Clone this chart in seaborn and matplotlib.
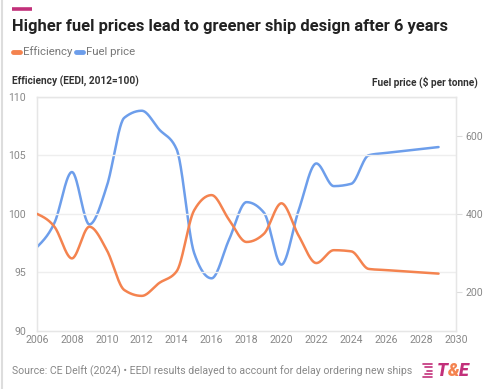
import numpy as np
import pandas as pd
import matplotlib
matplotlib.use("Agg")
import matplotlib.pyplot as plt
from matplotlib.lines import Line2D
import seaborn as sns

years = [2006, 2007, 2008, 2009, 2010, 2011, 2012, 2013, 2014, 2015, 2016, 2017,
         2018, 2019, 2020, 2021, 2022, 2023, 2024, 2025, 2026, 2027, 2028, 2029]
efficiency = [100.0, 98.9, 96.2, 98.9, 96.9, 93.5, 93.0, 94.1, 95.1, 100.3, 101.6, 99.5,
              97.6, 98.3, 100.9, 98.1, 95.8, 96.9, 96.8, 95.3, 95.2, 95.1, 95.0, 94.9]
fuel_price = [315, 377, 507, 373, 471, 646, 664, 616, 565, 300, 235, 334,
              430, 403, 270, 411, 529, 471, 477, 550, 556, 561, 566, 571]

x_ticks = list(range(2006, 2031, 2))
left_ticks = [90, 95, 100, 105, 110]
right_ticks = [200, 400, 600]

ORANGE = "#f4834f"
BLUE = "#6d9eeb"
PINK = "#c2307a"


def monotone(x, y, n=30):
    x = np.asarray(x, float)
    y = np.asarray(y, float)
    h = np.diff(x)
    s = np.diff(y) / h
    m = np.zeros_like(y)
    for k in range(1, len(y) - 1):
        s0, s1, h0, h1 = s[k - 1], s[k], h[k - 1], h[k]
        p = (s0 * h1 + s1 * h0) / (h0 + h1)
        m[k] = (np.sign(s0) + np.sign(s1)) * min(abs(s0), abs(s1), 0.5 * abs(p))
    m[0] = (3 * s[0] - m[1]) / 2
    m[-1] = (3 * s[-1] - m[-2]) / 2
    xs, ys = [], []
    for k in range(len(x) - 1):
        t = np.linspace(0, 1, n, endpoint=False)
        h00 = 2 * t**3 - 3 * t**2 + 1
        h10 = t**3 - 2 * t**2 + t
        h01 = -2 * t**3 + 3 * t**2
        h11 = t**3 - t**2
        xs.append(x[k] + t * h[k])
        ys.append(h00 * y[k] + h10 * h[k] * m[k] + h01 * y[k + 1] + h11 * h[k] * m[k + 1])
    xs.append([x[-1]])
    ys.append([y[-1]])
    return np.concatenate(xs), np.concatenate(ys)


sns.set_theme(style="white")
plt.rcParams["font.family"] = ["Roboto", "DejaVu Sans"]

fig = plt.figure(figsize=(5.0, 3.89), dpi=100)
ax = fig.add_axes([0.074, 0.149, 0.838, 0.6025])
ax2 = ax.twinx()

ex, ey = monotone(years, efficiency)
px, py = monotone(years, fuel_price)
sns.lineplot(x=ex, y=ey, ax=ax, color=ORANGE, linewidth=1.8, sort=False, zorder=3)
sns.lineplot(x=px, y=py, ax=ax2, color=BLUE, linewidth=1.8, sort=False, zorder=3)

ax.set_xlim(2006, 2030)
ax.set_ylim(90, 110)
ax2.set_ylim(100, 700)
ax.set_xticks(x_ticks)
ax.set_yticks(left_ticks)
ax2.set_yticks(right_ticks)
for yv in [95, 100, 105, 110]:
    ax.axhline(yv, color="#eeeeee", linewidth=1.0, zorder=0)

for a in (ax, ax2):
    for sp in a.spines.values():
        sp.set_color("#e6e6e6")
        sp.set_linewidth(0.9)
    a.set_xlabel("")
    a.set_ylabel("")

ax.tick_params(axis="x", length=0, pad=3, labelsize=7.6, labelcolor="#888888")
ax.tick_params(axis="y", length=0, pad=8, labelsize=7.6, labelcolor="#888888")
ax2.tick_params(axis="y", length=4, width=0.8, color="#dddddd", pad=3,
                labelsize=7.6, labelcolor="#888888")
ax.set_zorder(ax2.get_zorder() + 1)
ax.patch.set_visible(False)

# header
fig.add_artist(Line2D([12 / 500, 32 / 500], [1 - 9 / 389] * 2, color=PINK,
                      linewidth=2.6, solid_capstyle="butt"))
fig.text(12 / 500, 1 - 26 / 389, "Higher fuel prices lead to greener ship design after 6 years",
         fontsize=11.9, fontweight="bold", color="#222222", va="center", ha="left")
fig.add_artist(Line2D([13 / 500, 20 / 500], [1 - 52 / 389] * 2, color=ORANGE,
                      linewidth=3.5, solid_capstyle="round"))
fig.text(23 / 500, 1 - 52 / 389, "Efficiency", fontsize=8.2, color="#777777",
         va="center", ha="left")
fig.add_artist(Line2D([76 / 500, 83 / 500], [1 - 52 / 389] * 2, color=BLUE,
                      linewidth=3.5, solid_capstyle="round"))
fig.text(86 / 500, 1 - 52 / 389, "Fuel price", fontsize=8.2, color="#777777",
         va="center", ha="left")
fig.text(12 / 500, 1 - 81 / 389, "Efficiency (EEDI, 2012=100)", fontsize=7.3,
         fontweight="bold", color="#333333", va="center", ha="left")
fig.text(478 / 500, 1 - 82 / 389, "Fuel price ($ per tonne)", fontsize=7.3,
         fontweight="bold", color="#333333", va="center", ha="right")

# footer
fig.text(12 / 500, 1 - 371 / 389,
         "Source: CE Delft (2024) \u2022 EEDI results delayed to account for delay ordering new ships",
         fontsize=7.6, color="#888888", va="center", ha="left")
for i, (x0, x1) in enumerate([(423, 432), (425, 432), (427, 432), (425, 432), (423, 432)]):
    yy = 1 - (364 + i * 3.3) / 389
    fig.add_artist(Line2D([x0 / 500, x1 / 500], [yy, yy], color=PINK, linewidth=1.2))

renderer = fig.canvas.get_renderer()
xpos = 437.0
for ch, col in [("T", PINK), ("&", ORANGE), ("E", PINK)]:
    t = fig.text(xpos / 500, 1 - 371 / 389, ch, fontsize=13, fontweight="black",
                 style="italic", color=col, va="center", ha="left")
    bb = t.get_window_extent(renderer=renderer)
    xpos = bb.x1 - 0.5

# left light border
fig.add_artist(Line2D([1.5 / 500, 1.5 / 500], [0, 1], color="#dddddd", linewidth=1.5))

fig.savefig("out.png", dpi=100, facecolor="white")
